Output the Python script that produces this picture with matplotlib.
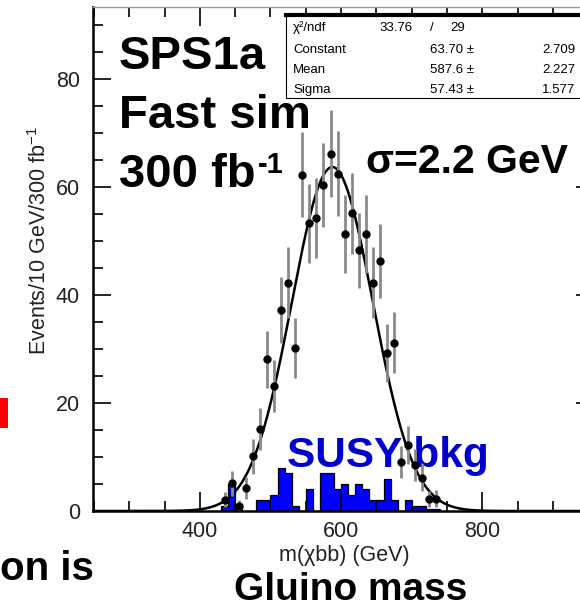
import numpy as np
import matplotlib
matplotlib.use('Agg')
import matplotlib.pyplot as plt
from matplotlib.patches import Rectangle
from matplotlib.lines import Line2D
from matplotlib.ticker import MultipleLocator

plt.rcParams['font.family'] = ['Liberation Sans', 'DejaVu Sans']
plt.rcParams['mathtext.fontset'] = 'custom'
plt.rcParams['mathtext.rm'] = 'Liberation Sans'
plt.rcParams['mathtext.default'] = 'regular'

# ---------------- data ----------------
sig_centers = [435, 445, 455, 465, 475, 485, 495, 505, 515, 525, 535, 545, 555,
               565, 575, 585, 595, 605, 615, 625, 635, 645, 655, 665, 675, 685,
               695, 705, 715, 725, 735]
sig_counts = [2.1, 5.1, 1.0, 4.2, 10.1, 15.1, 28.1, 23.2, 37.2, 42.3, 30.2, 62.3,
              53.3, 54.3, 60.4, 66.2, 62.5, 51.3, 55.1, 48.3, 51.3, 42.3, 46.3,
              29.2, 31.2, 9.1, 12.2, 8.5, 6.2, 2.2, 2.3]

bkg_edges = [430, 440, 450, 460, 470, 480, 490, 500, 510, 520, 530, 540, 550,
             560, 570, 580, 590, 600, 610, 620, 630, 640, 650, 660, 670, 680,
             690, 700, 710, 720, 730, 740]
bkg_counts = [1, 5, 1, 0, 0, 2, 2, 3, 8, 7, 1, 0, 4, 0, 7, 7, 4, 5, 3, 5, 4, 2,
              2, 6, 2, 0, 2, 1, 1, 0.4, 0.4]

fit_const = 63.70
fit_mean = 587.6
fit_sigma = 57.43

stat_names = ["χ²/ndf", "Constant", "Mean", "Sigma"]
stat_vals = ["63.70 ±", "587.6 ±", "57.43 ±"]
stat_errs = ["2.709", "2.227", "1.577"]

xticks_major = [400, 600, 800]
yticks_major = [0, 20, 40, 60, 80]

# ---------------- figure ----------------
W, H = 580, 608
fig = plt.figure(figsize=(W / 100, H / 100), dpi=100)
fig.patch.set_facecolor('white')

def fx(x):
    return x / W

def fy(y):
    return 1 - y / H

ax_l, ax_r, ax_t, ax_b = 92.5, 594.0, 7.0, 511.0
ax = fig.add_axes([fx(ax_l), fy(ax_b), (ax_r - ax_l) / W, (ax_b - ax_t) / H])
ax.set_xlim(248, 958)
ax.set_ylim(0, (ax_b - ax_t) / 5.4)

# background histogram
ax.stairs(bkg_counts, bkg_edges, fill=True, facecolor='#0000ff',
          edgecolor='none', zorder=1.5)
ax.stairs(bkg_counts, bkg_edges, fill=False, color='black', lw=0.9, zorder=1.6)

# fit curve
xs = np.linspace(250, 955, 600)
ax.plot(xs, fit_const * np.exp(-0.5 * ((xs - fit_mean) / fit_sigma) ** 2),
        color='black', lw=1.8, zorder=2)

# data points
counts = np.array(sig_counts)
ax.errorbar(sig_centers, counts, yerr=np.sqrt(counts), fmt='o', color='black',
            ms=5, ecolor='#8a8a8a', elinewidth=2.0, capsize=0, zorder=3)

# axes styling
ax.xaxis.set_major_locator(plt.FixedLocator(xticks_major))
ax.xaxis.set_minor_locator(MultipleLocator(50))
ax.yaxis.set_major_locator(plt.FixedLocator(yticks_major))
ax.yaxis.set_minor_locator(MultipleLocator(5))
ax.tick_params(which='both', direction='in', top=True, right=True,
               color='black', width=1.2)
ax.tick_params(axis='x', which='major', length=13.5, pad=7, labelsize=15.5,
               labelcolor='#222222')
ax.tick_params(axis='x', which='minor', length=7)
ax.tick_params(axis='y', which='major', length=13, pad=9, labelsize=15.5,
               labelcolor='#222222')
ax.tick_params(axis='y', which='minor', length=7)
for s in ['left', 'bottom']:
    ax.spines[s].set_linewidth(1.8)
ax.spines['top'].set_linewidth(1.0)
ax.spines['top'].set_color('#999999')
ax.spines['right'].set_linewidth(1.8)

ax.set_xlabel('m(χbb) (GeV)', fontsize=15.5, color='#222222')
ax.xaxis.set_label_coords((344 - ax_l) / (ax_r - ax_l), (ax_b - 556) / (ax_b - ax_t))
ax.xaxis.label.set_va('center')
ax.set_ylabel('Events/10 GeV/300 fb$^{-1}$', fontsize=15.5, color='#222222')
ax.yaxis.set_label_coords((40 - ax_l) / (ax_r - ax_l), (ax_b - 241) / (ax_b - ax_t))
ax.yaxis.label.set_va('center')

# stats box
box = Rectangle((fx(286), fy(98)), (620 - 286) / W, (98 - 14) / H,
                transform=fig.transFigure, facecolor='white', edgecolor='black',
                lw=0.8, zorder=2.2, clip_on=False)
ax.add_patch(box)
ax.add_line(Line2D([fx(286), fx(620)], [fy(15), fy(15)], lw=3.0, color='black',
                   transform=fig.transFigure, zorder=2.3, clip_on=False))
sfs = 9.5
row_y = [28, 50, 70, 90]
for name, yy in zip(stat_names, row_y):
    ax.text(fx(293), fy(yy), name, transform=fig.transFigure, fontsize=sfs,
            va='center', ha='left', zorder=2.4)
ax.text(fx(413), fy(row_y[0]), "33.76", transform=fig.transFigure, fontsize=sfs,
        va='center', ha='right', zorder=2.4)
ax.text(fx(432), fy(row_y[0]), "/", transform=fig.transFigure, fontsize=sfs,
        va='center', ha='center', zorder=2.4)
ax.text(fx(450), fy(row_y[0]), "29", transform=fig.transFigure, fontsize=sfs,
        va='center', ha='left', zorder=2.4)
for v, e, yy in zip(stat_vals, stat_errs, row_y[1:]):
    ax.text(fx(430), fy(yy), v, transform=fig.transFigure, fontsize=sfs,
            va='center', ha='left', zorder=2.4)
    ax.text(fx(575), fy(yy), e, transform=fig.transFigure, fontsize=sfs,
            va='center', ha='right', zorder=2.4)

# big annotations
big = dict(fontsize=34, fontweight='bold', color='black', va='baseline', ha='left')
fig.text(fx(119), fy(69), 'SPS1a', **big)
fig.text(fx(119), fy(128), 'Fast sim', **big)
fig.text(fx(119), fy(187), '300 fb', **big)
fig.text(fx(258), fy(173), '-1', fontsize=21, fontweight='bold', va='baseline',
         ha='left')
fig.text(fx(366), fy(173), 'σ=2.2 GeV', fontsize=29.5, fontweight='bold',
         va='baseline', ha='left')
ax.text(fx(287), fy(467), 'SUSY bkg', transform=fig.transFigure, fontsize=30.5,
        fontweight='bold', color='#0000cc', va='baseline', ha='left', zorder=1.8)
fig.text(fx(351), fy(600), 'Gluino mass', fontsize=28, fontweight='bold',
         va='baseline', ha='center')
fig.text(fx(94), fy(580), 'on is', fontsize=29, fontweight='bold',
         va='baseline', ha='right')
fig.patches.append(Rectangle((fx(0), fy(428)), 8 / W, 30 / H,
                             transform=fig.transFigure, facecolor='#ff0000',
                             edgecolor='none'))

fig.savefig('out.png', dpi=100)
